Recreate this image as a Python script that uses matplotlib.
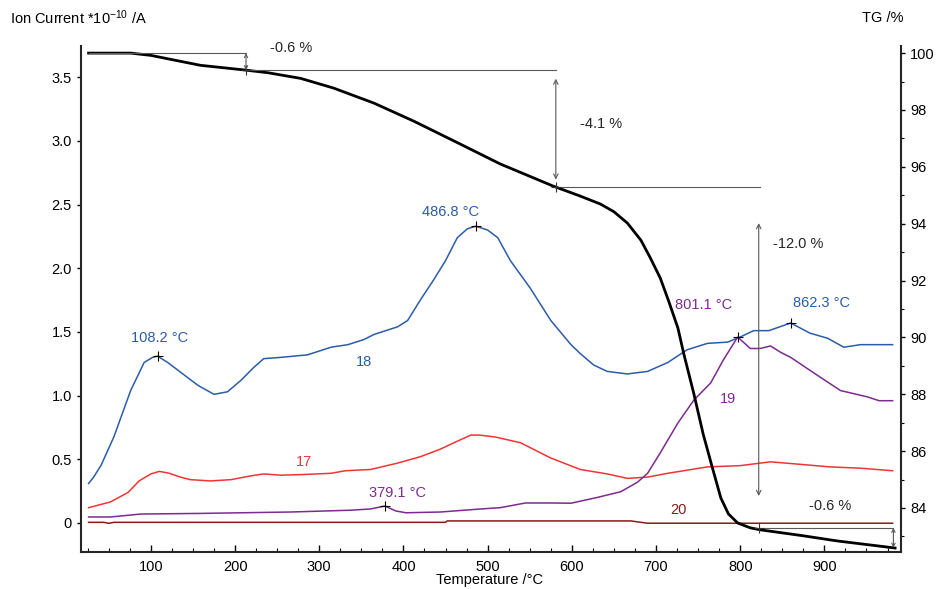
import matplotlib.pyplot as plt
from matplotlib.ticker import MultipleLocator

plt.rcParams['font.family'] = ['Liberation Sans', 'DejaVu Sans']
plt.rcParams['mathtext.fontset'] = 'custom'
plt.rcParams['mathtext.rm'] = 'Liberation Sans'

# Ion current traces (temperature in degC, current in 1e-10 A)
t18 = [26, 32, 41, 56, 76, 92, 102, 108, 120, 136, 156, 175, 191, 207, 222, 234, 254, 286, 314, 334,
       353, 365, 393, 405, 420, 436, 450, 464, 476, 486, 500, 512, 527, 551, 575, 599, 610, 626, 642, 666,
       690, 714, 737, 761, 785, 800, 816, 834, 860, 883, 904, 923, 943, 981]
i18 = [0.31, 0.36, 0.455, 0.675, 1.04, 1.26, 1.30, 1.31, 1.26, 1.18, 1.08, 1.01, 1.03, 1.12, 1.22, 1.29,
       1.30, 1.32, 1.38, 1.40, 1.44, 1.48, 1.54, 1.59, 1.75, 1.91, 2.06, 2.24, 2.31, 2.33, 2.30, 2.24,
       2.06, 1.84, 1.59, 1.40, 1.33, 1.24, 1.19, 1.17, 1.19, 1.26, 1.36, 1.41, 1.42, 1.46, 1.51, 1.51,
       1.57, 1.49, 1.45, 1.38, 1.40, 1.40]

t17 = [26, 52, 73, 86, 100, 110, 122, 135, 147, 171, 195, 219, 234, 254, 280, 314, 331, 361, 393, 420,
       444, 460, 480, 490, 509, 539, 575, 610, 642, 666, 690, 714, 761, 800, 836, 872, 907, 943, 981]
i17 = [0.12, 0.165, 0.24, 0.33, 0.385, 0.405, 0.39, 0.36, 0.34, 0.33, 0.34, 0.37, 0.385, 0.375, 0.38,
       0.39, 0.41, 0.42, 0.47, 0.52, 0.58, 0.63, 0.69, 0.69, 0.675, 0.63, 0.51, 0.42, 0.385, 0.35, 0.36,
       0.39, 0.44, 0.45, 0.48, 0.46, 0.44, 0.43, 0.41]

t19 = [26, 52, 88, 159, 266, 337, 361, 378, 391, 403, 444, 492, 515, 545, 575, 599, 630, 658, 678, 690,
       705, 726, 745, 765, 780, 797, 812, 824, 836, 848, 860, 887, 919, 951, 965, 981]
i19 = [0.047, 0.047, 0.07, 0.075, 0.086, 0.10, 0.11, 0.133, 0.094, 0.08, 0.086, 0.11, 0.12, 0.157, 0.157,
       0.155, 0.20, 0.245, 0.32, 0.39, 0.55, 0.785, 0.965, 1.10, 1.28, 1.46, 1.37, 1.37, 1.39, 1.34, 1.30,
       1.18, 1.04, 0.99, 0.96, 0.96]

t20 = [26, 44, 50, 56, 450, 452, 670, 690, 981]
i20 = [0.005, 0.005, -0.003, 0.005, 0.005, 0.016, 0.016, -0.002, -0.002]

# TG curve (%)
t_tg = [26, 76, 100, 132, 159, 191, 213, 239, 278, 317, 365, 412, 460, 515, 578, 610, 634, 650, 666,
        682, 693, 705, 715, 726, 733, 745, 756, 767, 777, 786, 797, 812, 824, 875, 915, 984]
tg = [100.0, 100.0, 99.92, 99.73, 99.57, 99.47, 99.40, 99.31, 99.11, 98.77, 98.24, 97.61, 96.91, 96.10,
      95.32, 94.97, 94.69, 94.42, 94.02, 93.42, 92.81, 92.09, 91.28, 90.33, 89.42, 88.01, 86.6, 85.41,
      84.35, 83.79, 83.47, 83.30, 83.23, 83.02, 82.84, 82.59]

# peak markers
peaks18 = [(108, 1.31), (486, 2.33), (860, 1.57)]
peaks19 = [(378, 0.133), (797, 1.46)]

# mass loss steps: start temp, end temp, start %, end %
steps = [(26, 213, 100.0, 99.4), (213, 581, 99.4, 95.3), (581, 822, 95.3, 83.3), (822, 982, 83.3, 82.7)]
step_labels = ['-0.6 %', '-4.1 %', '-12.0 %', '-0.6 %']

c18 = '#2a5caa'
c17 = '#f03434'
c19 = '#7d2a91'
c20 = '#8b1a1a'
grey = '0.35'

fig = plt.figure(figsize=(9.36, 5.89), dpi=100)
ax = fig.add_axes([81 / 936, 37 / 589, 820 / 936, 506 / 589])
ax2 = ax.twinx()

ax.plot(t18, i18, color=c18, lw=1.1)
ax.plot(t17, i17, color=c17, lw=1.1)
ax.plot(t19, i19, color=c19, lw=1.1)
ax.plot(t20, i20, color=c20, lw=1.1)

ax.set_xlim(17, 991)
ax.set_ylim(-0.228, 3.745)
ax.set_yticks([0, 0.5, 1.0, 1.5, 2.0, 2.5, 3.0, 3.5])
ax.set_yticklabels(['0', '0.5', '1.0', '1.5', '2.0', '2.5', '3.0', '3.5'])
ax.xaxis.set_major_locator(MultipleLocator(100))
ax.xaxis.set_minor_locator(MultipleLocator(25))

for t, v in peaks18 + peaks19:
    ax.plot(t, v, marker='+', color='black', ms=7, mew=0.8)

fs = 10.5
ax.text(110, 1.45, '108.2 °C', color=c18, fontsize=fs, ha='center', va='center')
ax.text(456, 2.44, '486.8 °C', color=c18, fontsize=fs, ha='center', va='center')
ax.text(896, 1.73, '862.3 °C', color=c18, fontsize=fs, ha='center', va='center')
ax.text(393, 0.235, '379.1 °C', color=c19, fontsize=fs, ha='center', va='center')
ax.text(756, 1.71, '801.1 °C', color=c19, fontsize=fs, ha='center', va='center')
ax.text(353, 1.26, '18', color=c18, fontsize=fs, ha='center', va='center')
ax.text(282, 0.48, '17', color=c17, fontsize=fs, ha='center', va='center')
ax.text(786, 0.97, '19', color=c19, fontsize=fs, ha='center', va='center')
ax.text(727, 0.10, '20', color=c20, fontsize=fs, ha='center', va='center')

# TG on right axis
ax2.plot(t_tg, tg, color='black', lw=2)
ax2.set_ylim(82.45, 100.25)
ax2.set_yticks(range(84, 101, 2))
ax2.yaxis.set_minor_locator(MultipleLocator(1))

ends = [213, 581, 824, 982]
for (ta, tb, pa, pb), te in zip(steps, ends):
    ax2.plot([ta, te], [pa, pa], color=grey, lw=0.8)

arrows = [(213, 100.0, 99.4, 6), (581, 99.1, 95.55, 8), (822, 94.02, 84.42, 8), (982, 83.3, 82.6, 6)]
for t, p_top, p_bot, ms in arrows:
    ax2.annotate('', xy=(t, p_bot), xytext=(t, p_top),
                 arrowprops=dict(arrowstyle='<->', color=grey, lw=0.8, shrinkA=0, shrinkB=0,
                                 mutation_scale=ms))
for t, p in [(213, 99.4), (581, 95.3), (822, 83.3)]:
    ax2.plot(t, p, marker='+', color='0.2', ms=7, mew=0.8)

ax2.text(266, 100.18, step_labels[0], fontsize=fs, ha='center', va='center', color='0.15')
ax2.text(635, 97.5, step_labels[1], fontsize=fs, ha='center', va='center', color='0.15')
ax2.text(869, 93.28, step_labels[2], fontsize=fs, ha='center', va='center', color='0.15')
ax2.text(907, 84.07, step_labels[3], fontsize=fs, ha='center', va='center', color='0.15')

for a in (ax, ax2):
    a.spines['top'].set_visible(False)
    for s in ('left', 'right', 'bottom'):
        a.spines[s].set_linewidth(1.5)
        a.spines[s].set_color('0.15')
ax.spines['right'].set_visible(False)
ax2.spines['left'].set_visible(False)
ax2.spines['bottom'].set_visible(False)

ax.tick_params(axis='x', which='major', direction='in', length=5, width=1, labelsize=fs, pad=6)
ax.tick_params(axis='x', which='minor', direction='in', length=3, width=0.8)
ax.tick_params(axis='y', direction='out', length=3, width=1, labelsize=fs)
ax2.tick_params(axis='y', which='major', direction='out', length=3, width=1, labelsize=fs)
ax2.tick_params(axis='y', which='minor', direction='out', length=2, width=0.8)

fig.text(10 / 936, 1 - 18 / 589, 'Ion Current *10$\\mathregular{^{-10}}$ /A', fontsize=fs,
         va='center', ha='left')
fig.text(903 / 936, 1 - 18 / 589, 'TG /%', fontsize=fs, va='center', ha='right')
fig.text(490 / 936, 1 - 580 / 589, 'Temperature /°C', fontsize=fs, va='center', ha='center')

plt.savefig('out.png', dpi=100)
